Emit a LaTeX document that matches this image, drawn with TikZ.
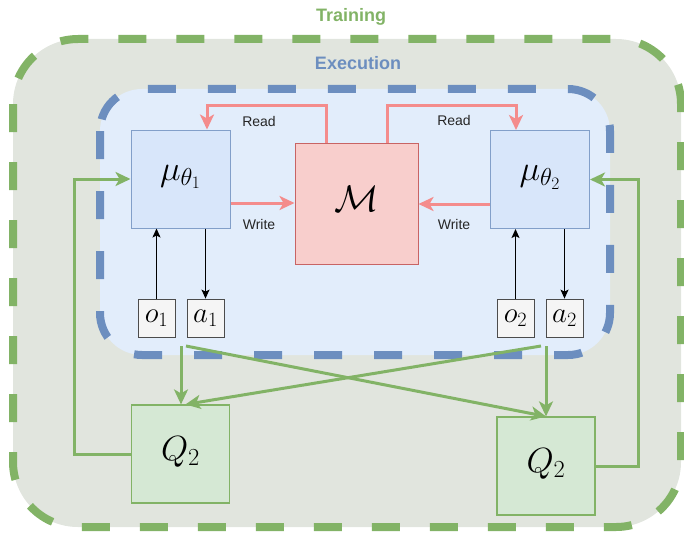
\RequirePackage{fix-cm}
\documentclass[tikz,border=0pt]{standalone}
\usepackage{fontspec}
\newfontfamily\labfont{Liberation Sans}
\usetikzlibrary{arrows.meta,calc}
\definecolor{grn}{HTML}{82B366}
\definecolor{grnfill}{HTML}{D5E8D4}
\definecolor{blu}{HTML}{6C8EBF}
\definecolor{blufill}{HTML}{D8E6FA}
\definecolor{exfill}{HTML}{E2EDFB}
\definecolor{trfill}{HTML}{E1E5DE}
\definecolor{redfill}{HTML}{F8CECC}
\definecolor{redline}{HTML}{C86464}
\definecolor{redarr}{HTML}{F48C8C}
\definecolor{boxgray}{HTML}{F5F5F5}
\begin{document}
\begin{tikzpicture}[x=1pt,y=-1pt,
  mubox/.style={draw=blu!85,fill=blufill,line width=1pt,minimum width=99pt,minimum height=98pt,inner sep=0pt},
  mbox/.style={draw=redline,fill=redfill,line width=1pt,minimum width=123pt,minimum height=121pt,inner sep=0pt},
  qbox/.style={draw=grn,fill=grnfill,line width=1.2pt,minimum width=98pt,minimum height=98pt,inner sep=0pt},
  smallbox/.style={draw=black!70,fill=boxgray,line width=0.8pt,minimum width=37pt,minimum height=38pt,inner sep=0pt,font=\fontsize{29}{31}\selectfont},
  lab/.style={font=\labfont\fontsize{14}{16}\selectfont,text=black!85,inner sep=0pt},
  redarrow/.style={draw=redarr,line width=3pt,-{Stealth[length=15pt,width=14pt,inset=4pt]}},
  grnarrow/.style={draw=grn,line width=3pt,-{Stealth[length=15pt,width=14pt,inset=4pt]}},
  blkarrow/.style={draw=black,line width=1.2pt,-{Stealth[length=9pt,width=8pt,inset=2pt]}},
  title/.style={font=\labfont\bfseries\fontsize{18}{20}\selectfont,inner sep=0pt}
]
\useasboundingbox (0,0) rectangle (684,532);
% containers
\draw[line width=8pt,grn,dash pattern=on 28pt off 30pt,fill=trfill,rounded corners=65pt] (13,39) rectangle (681,527);
\draw[line width=8pt,blu,dash pattern=on 28pt off 32pt,fill=exfill,rounded corners=42pt] (100,89) rectangle (610,355);
\node[title,text=grn] (train) at (351,17) {Training};
\node[title,text=blu] (exec) at (358,63) {Execution};
% main nodes
\node[mubox] (mu1) at (180.5,179) {\raisebox{13pt}{\fontsize{35}{37}\selectfont$\mu_{\theta_1}$}};
\node[mubox] (mu2) at (540,179.5) {\raisebox{13pt}{\fontsize{35}{37}\selectfont$\mu_{\theta_2}$}};
\node[mbox] (M) at (356.5,203.5) {\raisebox{10pt}{\fontsize{37}{39}\selectfont$\mathcal{M}$}};
\node[smallbox] (o1) at (156.5,318) {$o_1$};
\node[smallbox] (a1) at (205.5,318) {$a_1$};
\node[smallbox] (o2) at (515.5,318) {$o_2$};
\node[smallbox] (a2) at (564.5,318) {$a_2$};
\node[qbox] (Q1) at (180.5,454) {\raisebox{11pt}{\fontsize{35}{37}\selectfont$Q_2$}};
\node[qbox] (Q2) at (546,466) {\raisebox{11pt}{\fontsize{35}{37}\selectfont$Q_2$}};
% labels
\node[lab] (rd1) at (259,121) {Read};
\node[lab] (wr1) at (259,224) {Write};
\node[lab] (rd2) at (454,120) {Read};
\node[lab] (wr2) at (454,224) {Write};
% red read/write
\draw[redarrow] ($(M.north west)+(31.5,0)$) |- ($(mu1.north)+(26.5,-24)$) -- ($(mu1.north)+(26.5,0)$);
\draw[redarrow] ($(M.north east)+(-31.5,0)$) |- ($(mu2.north)+(-24,-25)$) -- ($(mu2.north)+(-24,0)$);
\draw[redarrow] ($(mu1.east)+(0,24)$) -- ($(M.west)+(0,-0.5)$);
\draw[redarrow] ($(mu2.west)+(0,24.5)$) -- ($(M.east)+(0,0.5)$);
% black o/a
\draw[blkarrow] (o1.north) -- (o1.north |- mu1.south);
\draw[blkarrow] (a1.north |- mu1.south) -- (a1.north);
\draw[blkarrow] (o2.north) -- (o2.north |- mu2.south);
\draw[blkarrow] (a2.north |- mu2.south) -- (a2.north);
% green
\coordinate (s1) at (181,346);
\coordinate (s1d) at (186,346);
\coordinate (s2) at (546,346);
\coordinate (s2d) at (541,346);
\draw[grnarrow] (s1) -- (s1 |- Q1.north);
\draw[grnarrow] (s1d) -- (Q2.north);
\draw[grnarrow] (s2d) -- ($(Q1.north)+(5,0)$);
\draw[grnarrow] (s2) -- (Q2.north);
\draw[grnarrow] (Q1.west) -- ++(-56,0) |- (mu1.west);
\draw[grnarrow] (Q2.east) -- ++(43,0) |- (mu2.east);
\end{tikzpicture}
\end{document}
